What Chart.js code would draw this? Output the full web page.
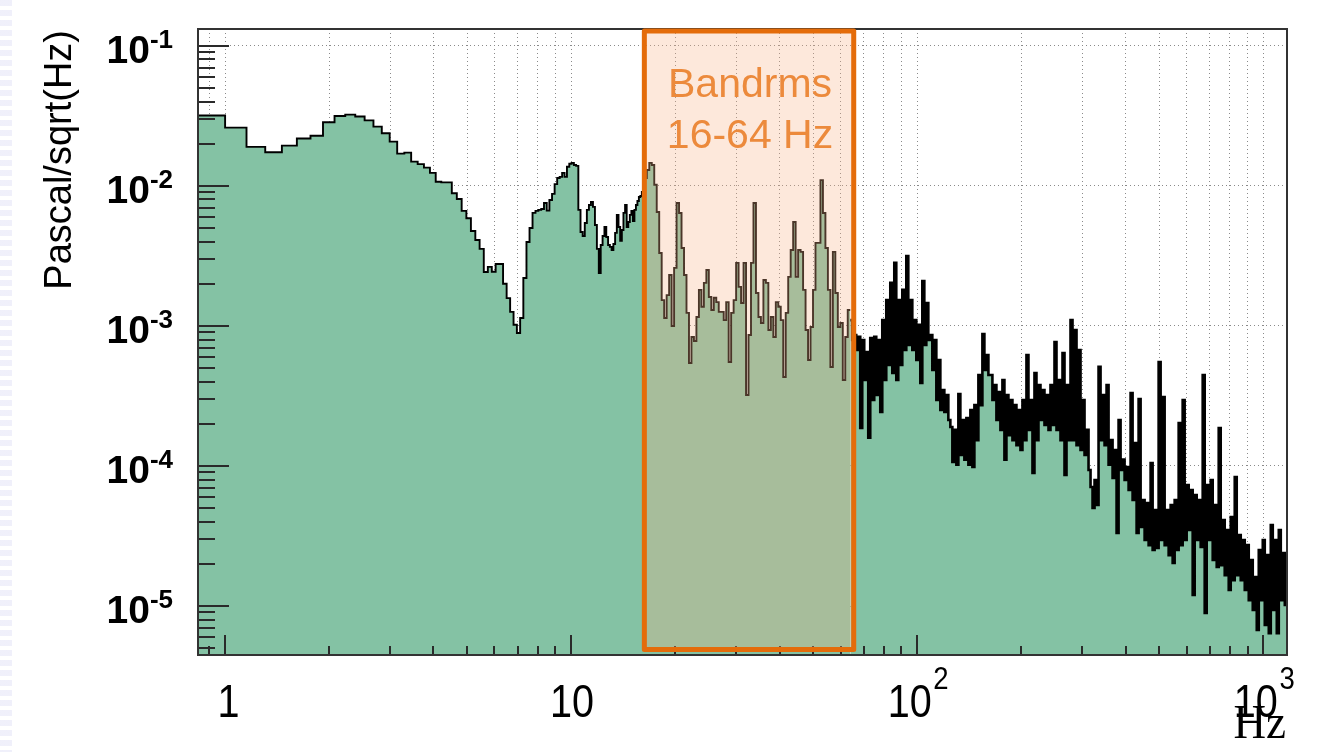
<!DOCTYPE html>
<html>
<head>
<meta charset="utf-8">
<title>Pressure spectrum</title>
<script src="https://cdn.jsdelivr.net/npm/chart.js@4.4.1/dist/chart.umd.min.js"></script>
<style>
  html, body { margin: 0; padding: 0; background: #ffffff; }
  #wrap {
    position: relative; width: 1321px; height: 752px;
    background:
      repeating-linear-gradient(180deg, rgba(205, 205, 240, 0.30) 0 6px, rgba(255, 255, 255, 0) 6px 10px) left top / 12px 100% no-repeat,
      #ffffff;
  }
  canvas { display: block; position: relative; }
</style>
</head>
<body>
<div id="wrap"><canvas id="spectrum" width="1321" height="752"></canvas></div>
<script>
// ---- spectrum data (Pa/sqrt(Hz)) ----
// Low-frequency part: uniform histogram bins
const lowStartHz = 0.694;
const lowBinHz = 0.153;
const lowValues = [
  3.18e-2, 3.18e-2, 2.61e-2, 1.90e-2, 1.74e-2, 1.94e-2, 2.18e-2, 2.28e-2, 2.85e-2, 3.16e-2,
  3.23e-2, 3.13e-2, 2.94e-2, 2.65e-2, 2.38e-2, 2.07e-2, 1.70e-2, 1.73e-2, 1.49e-2, 1.43e-2,
  1.35e-2, 1.24e-2, 1.07e-2, 1.06e-2, 1.06e-2, 8.87e-3, 8.07e-3, 6.63e-3, 5.88e-3, 4.77e-3,
  4.11e-3, 3.55e-3, 2.43e-3, 2.64e-3, 2.44e-3, 2.77e-3, 2.77e-3, 2.00e-3, 1.58e-3, 1.26e-3,
  1.02e-3, 8.91e-4, 1.14e-3, 2.20e-3, 3.98e-3, 5.01e-3, 6.42e-3, 6.63e-3, 6.74e-3, 6.85e-3,
  7.56e-3, 6.66e-3, 7.94e-3, 8.77e-3, 1.03e-2, 1.14e-2, 1.16e-2, 1.24e-2, 1.16e-2, 1.37e-2,
  1.44e-2, 1.46e-2, 1.41e-2, 1.39e-2, 6.74e-3, 4.69e-3, 4.39e-3, 5.44e-3, 6.74e-3, 7.31e-3,
  7.69e-3, 7.08e-3, 5.26e-3, 3.55e-3, 2.39e-3, 3.79e-3, 4.39e-3, 5.09e-3, 4.32e-3, 3.79e-3,
  3.67e-3, 3.49e-3, 3.85e-3, 4.62e-3, 6.21e-3, 5.09e-3, 4.05e-3, 4.85e-3, 6.42e-3, 7.31e-3,
  5.09e-3, 5.53e-3, 6.21e-3, 6.63e-3, 5.62e-3, 6.74e-3, 7.31e-3, 7.81e-3, 8.34e-3, 8.48e-3
];

// 16-64 Hz: log-spaced columns
const bandStartHz = 16;
const bandStopHz = 64;
const bandValues = [
  9.06e-3, 1.14e-2, 1.30e-2, 1.46e-2, 1.41e-2, 1.02e-2, 6.52e-3, 3.32e-3, 1.53e-3, 1.14e-3,
  1.66e-3, 2.31e-3, 1.00e-3, 2.60e-3, 7.56e-3, 6.41e-3, 3.60e-3, 2.31e-3, 1.24e-3, 5.44e-4,
  8.34e-4, 7.81e-4, 1.16e-3, 1.81e-3, 1.37e-3, 2.03e-3, 2.51e-3, 1.61e-3, 1.30e-3, 1.59e-3,
  1.48e-3, 1.26e-3, 1.26e-3, 1.10e-3, 1.48e-3, 5.53e-4, 1.24e-3, 1.53e-3, 2.82e-3, 1.90e-3,
  1.46e-3, 2.82e-3, 3.21e-4, 8.62e-4, 2.82e-3, 7.56e-3, 1.72e-3, 1.16e-3, 1.05e-3, 2.13e-3,
  2.03e-3, 9.36e-4, 1.16e-3, 8.34e-4, 1.48e-3, 1.37e-3, 1.10e-3, 4.32e-4, 1.24e-3, 2.24e-3,
  3.49e-3, 5.53e-3, 2.24e-3, 3.49e-3, 3.38e-3, 1.81e-3, 9.36e-4, 5.71e-4, 9.84e-4, 1.81e-3,
  3.92e-3, 3.92e-3, 1.10e-2, 6.41e-3, 3.60e-3, 1.81e-3, 5.09e-4, 3.38e-3, 1.72e-3, 9.84e-4,
  1.05e-3, 4.11e-4, 8.34e-4, 1.30e-3
];

// 64-1200 Hz: dense bins, given as peak / trough per log-spaced slot
const highStartHz = 64;
const highStopHz = 1200;
const highPeaks = [
  1.10e-3, 8.62e-4, 8.35e-4, 7.94e-4, 6.52e-4, 8.21e-4, 8.35e-4, 7.94e-4, 1.10e-3, 1.53e-3,
  2.03e-3, 2.82e-3, 1.53e-3, 1.81e-3, 3.16e-3, 1.53e-3, 1.10e-3, 1.02e-3, 2.09e-3, 1.46e-3,
  8.62e-4, 7.94e-4, 5.72e-4, 3.49e-4, 3.21e-4, 1.90e-4, 1.81e-4, 3.27e-4, 2.13e-4, 2.20e-4,
  2.51e-4, 2.72e-4, 4.47e-4, 8.77e-4, 6.20e-4, 4.47e-4, 3.79e-4, 3.38e-4, 4.11e-4, 3.21e-4,
  2.96e-4, 2.72e-4, 2.51e-4, 2.96e-4, 6.20e-4, 2.96e-4, 4.61e-4, 3.79e-4, 3.49e-4, 3.21e-4,
  3.79e-4, 7.69e-4, 4.11e-4, 6.41e-4, 3.79e-4, 1.10e-3, 9.36e-4, 6.74e-4, 2.96e-4, 1.81e-4,
  7.08e-5, 7.94e-5, 5.10e-4, 3.21e-4, 3.79e-4, 1.53e-4, 1.30e-4, 2.13e-4, 1.11e-4, 9.84e-5,
  3.32e-4, 1.46e-4, 3.01e-4, 5.72e-5, 5.44e-5, 1.05e-4, 4.85e-5, 5.53e-4, 3.11e-4, 4.85e-5,
  5.27e-5, 5.72e-5, 2.03e-4, 2.96e-4, 7.32e-5, 6.74e-5, 6.20e-5, 5.72e-5, 4.47e-4, 7.32e-5,
  7.94e-5, 5.27e-5, 1.87e-4, 4.11e-5, 3.49e-5, 4.32e-5, 8.35e-5, 3.21e-5, 2.96e-5, 2.72e-5,
  2.13e-5, 1.61e-5, 2.51e-5, 2.96e-5, 2.31e-5, 3.79e-5, 2.96e-5, 3.49e-5, 2.39e-5, 2.39e-5
];
const highTroughs = [
  7.94e-4, 6.74e-4, 1.87e-4, 4.11e-4, 1.59e-4, 2.96e-4, 3.21e-4, 2.43e-4, 4.11e-4, 5.27e-4,
  4.61e-4, 4.11e-4, 5.27e-4, 6.74e-4, 7.32e-4, 6.74e-4, 5.72e-4, 3.91e-4, 7.32e-4, 7.94e-4,
  4.85e-4, 2.96e-4, 2.51e-4, 2.43e-4, 2.13e-4, 1.07e-4, 1.02e-4, 1.20e-4, 1.11e-4, 1.02e-4,
  9.84e-5, 1.53e-4, 2.72e-4, 4.85e-4, 4.47e-4, 2.96e-4, 2.13e-4, 1.81e-4, 1.11e-4, 1.66e-4,
  1.53e-4, 1.41e-4, 1.30e-4, 1.53e-4, 1.81e-4, 8.91e-5, 1.53e-4, 2.13e-4, 1.96e-4, 1.81e-4,
  1.96e-4, 1.81e-4, 1.53e-4, 8.62e-5, 1.53e-4, 1.53e-4, 1.41e-4, 1.30e-4, 1.20e-4, 9.36e-5,
  5.01e-5, 5.27e-5, 1.53e-4, 1.41e-4, 1.02e-4, 8.21e-5, 3.32e-5, 9.36e-5, 7.94e-5, 6.74e-5,
  5.72e-5, 3.32e-5, 3.67e-5, 2.96e-5, 2.72e-5, 2.51e-5, 2.60e-5, 2.96e-5, 2.72e-5, 2.31e-5,
  2.03e-5, 2.51e-5, 2.72e-5, 2.96e-5, 3.49e-5, 1.20e-5, 2.96e-5, 2.64e-5, 8.91e-6, 2.96e-5,
  2.13e-5, 1.90e-5, 1.96e-5, 1.66e-5, 1.30e-5, 1.53e-5, 1.66e-5, 1.53e-5, 1.30e-5, 1.10e-5,
  9.36e-6, 6.74e-6, 1.10e-5, 7.32e-6, 6.41e-6, 9.36e-6, 6.41e-6, 1.10e-5, 1.02e-5, 1.10e-5
];

// ---- axes and annotation ----
const xRange = [0.835, 1170];
const yRange = [4.47e-6, 0.132];
const xLabelValues = [1, 10, 100, 1000];
const yLabelExponents = [-1, -2, -3, -4, -5];
const bandEdgesHz = [16, 64];
const bandText = ['Bandrms', '16-64 Hz'];
const yTitle = 'Pascal/sqrt(Hz)';
const xTitle = 'Hz';

// ---- build the stepped histogram points ----
const lowPoints = [];
lowValues.forEach((v, i) => lowPoints.push({ x: lowStartHz + i * lowBinHz, y: v }));
bandValues.forEach((v, j) => lowPoints.push({
  x: bandStartHz * Math.pow(bandStopHz / bandStartHz, j / bandValues.length), y: v
}));
lowPoints.push({ x: bandStopHz, y: bandValues[bandValues.length - 1] });

const highPoints = [];
const highCount = highPeaks.length * 2;
for (let c = 0; c < highCount; c++) {
  const v = (c % 2 === 0) ? highPeaks[c >> 1] : highTroughs[c >> 1];
  highPoints.push({ x: highStartHz * Math.pow(highStopHz / highStartHz, c / highCount), y: v });
}
highPoints.push({ x: highStopHz, y: highTroughs[highTroughs.length - 1] });

// log-axis positions (1..9 per decade) inside a range
function logSteps(lo, hi) {
  const out = [];
  for (let e = Math.floor(Math.log10(lo)) - 1; e <= Math.ceil(Math.log10(hi)); e++) {
    for (let m = 1; m <= 9; m++) {
      const v = m * Math.pow(10, e);
      if (v >= lo * 0.9999 && v <= hi * 1.0001) out.push({ v, major: m === 1 });
    }
  }
  return out;
}
const xSteps = logSteps(xRange[0], xRange[1]);
const ySteps = logSteps(yRange[0], yRange[1]);

const SANS = '"Liberation Sans", Arial, Helvetica, sans-serif';

const framePlugin = {
  id: 'rootFrame',
  afterDatasetsDraw(chart) {
    const { ctx, chartArea: a, scales: { x, y } } = chart;
    ctx.save();
    // inner tick marks
    ctx.strokeStyle = '#2a2a2a';
    ctx.lineWidth = 2;
    ctx.beginPath();
    ySteps.forEach(s => {
      const p = Math.round(y.getPixelForValue(s.v));
      if (p < a.top || p > a.bottom) return;
      ctx.moveTo(a.left, p);
      ctx.lineTo(a.left + (s.major ? 31 : 17), p);
    });
    xSteps.forEach(s => {
      const p = Math.round(x.getPixelForValue(s.v));
      if (p < a.left || p > a.right) return;
      ctx.moveTo(p, a.bottom);
      ctx.lineTo(p, a.bottom - (s.major ? 20 : 9));
    });
    ctx.stroke();
    // frame
    ctx.strokeStyle = '#333333';
    ctx.lineWidth = 2;
    ctx.strokeRect(a.left, a.top, a.right - a.left, a.bottom - a.top);

    // 16-64 Hz band box
    const xl = x.getPixelForValue(bandEdgesHz[0]) + 2.5;
    const xr = x.getPixelForValue(bandEdgesHz[1]) + 3.5;
    const top = a.top + 2;
    const bottom = a.bottom - 5.5;
    ctx.fillStyle = 'rgba(247, 180, 135, 0.30)';
    ctx.fillRect(xl, top, xr - xl, bottom - top);
    ctx.strokeStyle = '#e46c0a';
    ctx.lineWidth = 5;
    ctx.lineJoin = 'round';
    ctx.strokeRect(xl, top, xr - xl, bottom - top);
    ctx.fillStyle = '#ec8a3c';
    ctx.font = '41px ' + SANS;
    ctx.textAlign = 'center';
    ctx.textBaseline = 'alphabetic';
    const cx = (xl + xr) / 2 + 1;
    ctx.fillText(bandText[0], cx, a.top + 68);
    ctx.fillText(bandText[1], cx, a.top + 119);
    ctx.restore();
  },
  afterDraw(chart) {
    const { ctx, chartArea: a, scales: { x, y } } = chart;
    ctx.save();
    ctx.fillStyle = '#000000';
    ctx.textBaseline = 'alphabetic';

    // y tick labels: 10 with superscript exponent, right-aligned block
    yLabelExponents.forEach(e => {
      const p = y.getPixelForValue(Math.pow(10, e));
      const exp = '-' + Math.abs(e);
      ctx.font = 'bold 26px ' + SANS;
      const ew = ctx.measureText(exp).width;
      ctx.font = 'bold 39px ' + SANS;
      const bw = ctx.measureText('10').width;
      const right = 173;
      ctx.textAlign = 'left';
      ctx.fillText('10', right - ew - bw, p + 17);
      ctx.font = 'bold 26px ' + SANS;
      ctx.fillText(exp, right - ew, p + 2);
    });

    // x tick labels
    xLabelValues.forEach(v => {
      const p = x.getPixelForValue(v);
      const e = Math.round(Math.log10(v));
      ctx.save();
      ctx.translate(p, 717);
      ctx.scale(0.86, 1);
      ctx.textAlign = 'left';
      ctx.font = '46px ' + SANS;
      if (e <= 1) {
        const t = String(v);
        const w = ctx.measureText(t).width;
        ctx.fillText(t, -w / 2 + (e === 0 ? 4 : 1), 0);
      } else {
        const bw = ctx.measureText('10').width;
        ctx.font = '32px ' + SANS;
        const ew = ctx.measureText(String(e)).width;
        const start = -(bw + ew) / 2;
        ctx.font = '46px ' + SANS;
        ctx.fillText('10', start, 0);
        ctx.font = '32px ' + SANS;
        ctx.fillText(String(e), start + bw + 2, -28);
      }
      ctx.restore();
    });

    // x-axis title, slightly condensed serif
    ctx.save();
    ctx.translate(a.right - 1, 738);
    ctx.scale(0.92, 1);
    ctx.font = '49px "Liberation Serif", "Times New Roman", serif';
    ctx.textAlign = 'right';
    ctx.fillText(xTitle, 0, 0);
    ctx.restore();

    ctx.save();
    ctx.translate(71, a.top + 1);
    ctx.rotate(-Math.PI / 2);
    ctx.font = '38px ' + SANS;
    ctx.textAlign = 'right';
    ctx.fillText(yTitle, 0, 0);
    ctx.restore();

    ctx.restore();
  }
};

const gridStyle = { color: '#8a8a8a', lineWidth: 1, drawTicks: false };

new Chart(document.getElementById('spectrum'), {
  type: 'line',
  data: {
    datasets: [{
      label: 'pressure below 64 Hz',
      data: lowPoints,
      stepped: true,
      borderColor: '#000000',
      borderWidth: 1.9,
      backgroundColor: '#84c2a4',
      fill: 'start',
      pointRadius: 0,
      tension: 0
    }, {
      label: 'pressure above 64 Hz',
      data: highPoints,
      stepped: true,
      borderColor: '#000000',
      borderWidth: 2.6,
      backgroundColor: '#84c2a4',
      fill: 'start',
      pointRadius: 0,
      tension: 0
    }]
  },
  options: {
    responsive: false,
    animation: false,
    devicePixelRatio: 1,
    layout: { padding: { left: 198, right: 34, top: 29, bottom: 97 } },
    plugins: { legend: { display: false }, tooltip: { enabled: false } },
    scales: {
      x: {
        type: 'logarithmic',
        min: xRange[0],
        max: xRange[1],
        ticks: { display: false, autoSkip: false },
        grid: gridStyle,
        border: { display: false, dash: [1, 3] },
        afterBuildTicks: s => { s.ticks = xSteps.map(t => ({ value: t.v })); },
        afterFit: s => { s.height = 0; }
      },
      y: {
        type: 'logarithmic',
        min: yRange[0],
        max: yRange[1],
        ticks: { display: false, autoSkip: false },
        grid: gridStyle,
        border: { display: false, dash: [1, 3] },
        afterBuildTicks: s => { s.ticks = ySteps.filter(t => t.major).map(t => ({ value: t.v })); },
        afterFit: s => { s.width = 0; }
      }
    }
  },
  plugins: [framePlugin]
});
</script>
</body>
</html>
